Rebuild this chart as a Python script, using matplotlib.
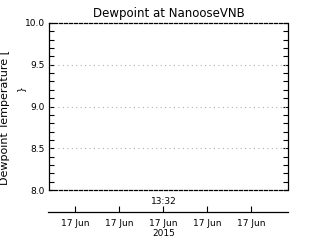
import matplotlib
matplotlib.use("Agg")
import matplotlib.pyplot as plt
from matplotlib.ticker import MultipleLocator

title = "Dewpoint at NanooseVNB"
ylabel = "Dewpoint Temperature ["
y_range = [8.0, 10.0]
y_major = [8.0, 8.5, 9.0, 9.5, 10.0]
grid_levels = [8.5, 9.0, 9.5]
x_ticks = [0, 1, 2, 3, 4]
x_ticklabels = ["17 Jun", "17 Jun", "17 Jun", "17 Jun", "17 Jun"]
x_range = [-0.61, 4.84]
year_label = "2015"
time_label = "13:32"

plt.rcParams['font.family'] = ['DejaVu Sans']
fig = plt.figure(figsize=(3.2, 2.4), dpi=100)

# main plot box
ax = fig.add_axes([49 / 320, 1 - 190 / 240, 239 / 320, 167 / 240])
ax.set_xlim(x_range)
ax.set_ylim(y_range)
ax.set_xticks([])
ax.set_yticks(y_major)
ax.set_yticklabels(["%.1f" % v for v in y_major], fontsize=6.5)
ax.yaxis.set_minor_locator(MultipleLocator(0.1))
ax.tick_params(axis='y', which='both', direction='in', length=3.5, width=0.8,
               left=True, right=True, pad=3)
for v in grid_levels:
    ax.axhline(v, color='#b0b0b0', lw=0.8, ls=(0, (1, 3)))
for s in ['top', 'bottom']:
    ax.spines[s].set_linestyle((0, (2.5, 1.5)))
    ax.spines[s].set_linewidth(0.9)
for s in ['left', 'right']:
    ax.spines[s].set_linewidth(0.9)
ax.set_title(title, fontsize=8.5, pad=4)

# date axis underneath
ax2 = fig.add_axes([48 / 320, 1 - 212 / 240, 240 / 320, 0.001])
ax2.set_xlim(x_range)
ax2.set_yticks([])
for s in ['top', 'left', 'right']:
    ax2.spines[s].set_visible(False)
ax2.spines['bottom'].set_linewidth(0.9)
ax2.set_xticks(x_ticks)
ax2.set_xticklabels(x_ticklabels, fontsize=6.5)
ax2.tick_params(axis='x', direction='in', length=4, width=0.8, pad=5)
ax2.patch.set_visible(False)

fig.text(164 / 320, 1 - 202 / 240, time_label, fontsize=6.5, ha='center', va='center')
fig.text(164 / 320, 1 - 234 / 240, year_label, fontsize=6.5, ha='center', va='center')

fig.text(5 / 320, 1 - 117 / 240, ylabel, fontsize=8, rotation=90,
         ha='center', va='center')
fig.text(21 / 320, 1 - 88 / 240, "}", fontsize=6.5, rotation=90,
         ha='center', va='center')

fig.savefig("out.png", dpi=100)
